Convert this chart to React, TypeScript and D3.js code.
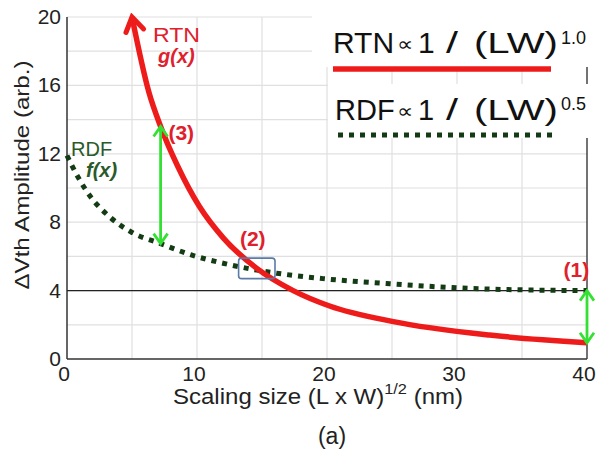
import React, { useRef, useEffect } from "react";
import { select, scaleLinear, line, curveMonotoneX, range } from "d3";

// values
const rtnX = [5, 6.3, 7.2, 8.5, 10.2, 12, 14.6, 17.4, 20.2, 25, 32.5, 40];
const rtnY = [20, 15.6, 13.6, 11.3, 8.9, 7.1, 5.3, 4.0, 3.1, 2.2, 1.4, 0.95];
const rdfX = [0, 0.8, 1.8, 3.3, 5, 7.2, 9.5, 12, 14.6, 19.7, 24.8, 32, 40];
const rdfY = [11.9, 10.7, 9.5, 8.3, 7.4, 6.75, 6.1, 5.6, 5.2, 4.7, 4.4, 4.1, 4.0];
const xTicks = [0, 10, 20, 30, 40];
const yTicks = [0, 4, 8, 12, 16, 20];
const gapArrows = [
  { x: 7.2, from: 13.6, to: 6.75 },
  { x: 40, from: 4.0, to: 0.95 },
];
const crossing = { x: 14.6, y: 5.3 };
const labels = [
  { text: "(1)", x: 38.2, y: 4.8 },
  { text: "(2)", x: 13.3, y: 6.6 },
  { text: "(3)", x: 7.8, y: 12.8 },
];
const legendNames = ["RTN", "RDF"];
const legendExps = ["1.0", "0.5"];

const W = 599;
const H = 452;
const RED = "#ee1b1b";
const DKGREEN = "#143c14";
const GREEN = "#33e033";
const FONT = "'Liberation Sans', Arial, sans-serif";

const App = () => {
  const svgRef = useRef<SVGSVGElement>(null);

  useEffect(() => {
    const svg = select(svgRef.current);
    svg.selectAll("*").remove();

    const x = scaleLinear().domain([0, 40]).range([67, 587]);
    const y = scaleLinear().domain([0, 20]).range([359, 17]);

    const defs = svg.append("defs");
    defs.append("marker")
      .attr("id", "redHead")
      .attr("viewBox", "0 0 24 24")
      .attr("refX", 20).attr("refY", 12)
      .attr("markerWidth", 24).attr("markerHeight", 24)
      .attr("markerUnits", "userSpaceOnUse")
      .attr("orient", "auto-start-reverse")
      .append("path")
      .attr("d", "M6,3 L20,12 L6,21")
      .attr("fill", "none").attr("stroke", RED).attr("stroke-width", 5)
      .attr("stroke-linecap", "round");
    defs.append("marker")
      .attr("id", "greenHead")
      .attr("viewBox", "0 0 20 20")
      .attr("refX", 17).attr("refY", 10)
      .attr("markerWidth", 20).attr("markerHeight", 20)
      .attr("markerUnits", "userSpaceOnUse")
      .attr("orient", "auto-start-reverse")
      .append("path")
      .attr("d", "M7,3 L17,10 L7,17")
      .attr("fill", "none").attr("stroke", GREEN).attr("stroke-width", 2.8);

    // grid
    svg.append("g").selectAll("line")
      .data(range(2, 21, 2))
      .join("line")
      .attr("x1", x(0)).attr("x2", x(40))
      .attr("y1", d => y(d)).attr("y2", d => y(d))
      .attr("stroke", "#e0e0e0").attr("stroke-width", 1.2);
    svg.append("g").selectAll("line")
      .data(range(5, 40, 5))
      .join("line")
      .attr("y1", y(0)).attr("y2", y(20))
      .attr("x1", d => x(d)).attr("x2", d => x(d))
      .attr("stroke", "#e0e0e0").attr("stroke-width", 1.2);

    // axes and the reference line at 4
    svg.append("line").attr("x1", x(0)).attr("x2", x(0)).attr("y1", y(20)).attr("y2", y(0))
      .attr("stroke", "#333").attr("stroke-width", 1.5);
    svg.append("line").attr("x1", x(40)).attr("x2", x(40)).attr("y1", y(20)).attr("y2", y(0))
      .attr("stroke", "#444").attr("stroke-width", 1.5);
    svg.append("line").attr("x1", x(0)).attr("x2", x(40)).attr("y1", y(0)).attr("y2", y(0))
      .attr("stroke", "#333").attr("stroke-width", 1.5);
    svg.append("line").attr("x1", x(0)).attr("x2", x(40)).attr("y1", y(4)).attr("y2", y(4))
      .attr("stroke", "#222").attr("stroke-width", 1.3);

    // tick labels
    svg.append("g").selectAll("text")
      .data(yTicks)
      .join("text")
      .attr("x", 61).attr("y", d => y(d) + 7)
      .attr("text-anchor", "end")
      .attr("font-family", FONT).attr("font-size", 21).attr("fill", "#222")
      .text(d => d);
    svg.append("g").selectAll("text")
      .data(xTicks)
      .join("text")
      .attr("x", d => x(d) - 3).attr("y", 381)
      .attr("text-anchor", "middle")
      .attr("font-family", FONT).attr("font-size", 21).attr("fill", "#222")
      .text(d => d);

    // axis titles
    svg.append("text")
      .attr("transform", `translate(29,175) rotate(-90)`)
      .attr("text-anchor", "middle")
      .attr("font-family", FONT).attr("font-size", 21).attr("fill", "#222")
      .attr("textLength", 229).attr("lengthAdjust", "spacingAndGlyphs")
      .text("ΔVth Amplitude (arb.)");
    const xt = svg.append("text")
      .attr("x", 173).attr("y", 404)
      .attr("font-family", FONT).attr("font-size", 22).attr("fill", "#222")
      .attr("textLength", 290).attr("lengthAdjust", "spacingAndGlyphs");
    xt.append("tspan").text("Scaling size (L x W)");
    xt.append("tspan").attr("dy", -10).attr("font-size", 15).text("1/2");
    xt.append("tspan").attr("dy", 10).text(" (nm)");
    svg.append("text")
      .attr("x", 332).attr("y", 444)
      .attr("text-anchor", "middle")
      .attr("font-family", FONT).attr("font-size", 23).attr("fill", "#222")
      .text("(a)");

    // legend boxes (white) and entries
    svg.append("rect").attr("x", 312).attr("y", 0).attr("width", 287).attr("height", 67).attr("fill", "#fff");
    svg.append("rect").attr("x", 328).attr("y", 84).attr("width", 271).attr("height", 54).attr("fill", "#fff");

    const legend = [
      { base: 53, expBase: 44, lineY: 69, color: RED, dash: null, nx: 333, size: 30, x1: 333, x2: 551 },
      { base: 120, expBase: 110, lineY: 135, color: DKGREEN, dash: "5,6", nx: 335, size: 29, x1: 338, x2: 557 },
    ];
    legend.forEach((l, i) => {
      const g = svg.append("g")
        .attr("font-family", FONT).attr("fill", "#111");
      g.append("text").attr("x", l.nx).attr("y", l.base).attr("font-size", l.size)
        .text(legendNames[i]);
      g.append("text").attr("x", 397).attr("y", l.base - 2).attr("font-size", 20)
        .attr("textLength", 16).attr("lengthAdjust", "spacingAndGlyphs")
        .text("∝");
      g.append("text").attr("x", 418).attr("y", l.base).attr("font-size", l.size).text("1");
      g.append("text").attr("x", 446).attr("y", l.base).attr("font-size", l.size)
        .attr("textLength", 12).attr("lengthAdjust", "spacingAndGlyphs").text("/");
      g.append("text").attr("x", 474).attr("y", l.base).attr("font-size", l.size)
        .attr("textLength", 84).attr("lengthAdjust", "spacingAndGlyphs")
        .text("(LW)");
      g.append("text").attr("x", 561).attr("y", l.expBase).attr("font-size", 18)
        .text(legendExps[i]);
      svg.append("line")
        .attr("x1", l.x1).attr("x2", l.x2).attr("y1", l.lineY).attr("y2", l.lineY)
        .attr("stroke", l.color).attr("stroke-width", l.dash ? 5 : 5.5)
        .attr("stroke-dasharray", l.dash);
    });

    // curves
    const lineGen = line<[number, number]>()
      .x(d => x(d[0])).y(d => y(d[1]))
      .curve(curveMonotoneX);
    const rdf = rdfX.map((v, i) => [v, rdfY[i]] as [number, number]);
    const rtn = rtnX.map((v, i) => [v, rtnY[i]] as [number, number]);

    svg.append("path")
      .attr("d", lineGen(rdf))
      .attr("fill", "none").attr("stroke", DKGREEN)
      .attr("stroke-width", 5).attr("stroke-dasharray", "5,6");
    svg.append("path")
      .attr("d", lineGen(rtn))
      .attr("fill", "none").attr("stroke", RED)
      .attr("stroke-width", 5.5)
      .attr("marker-start", "url(#redHead)");

    // gap arrows
    svg.append("g").selectAll("line")
      .data(gapArrows)
      .join("line")
      .attr("x1", d => x(d.x)).attr("x2", d => x(d.x))
      .attr("y1", d => y(d.from)).attr("y2", d => y(d.to))
      .attr("stroke", GREEN).attr("stroke-width", 2.8)
      .attr("marker-start", "url(#greenHead)")
      .attr("marker-end", "url(#greenHead)");

    // crossing box
    svg.append("rect")
      .attr("x", x(crossing.x - 1.4)).attr("y", y(crossing.y + 0.6))
      .attr("width", x(crossing.x + 1.4) - x(crossing.x - 1.4))
      .attr("height", y(crossing.y - 0.6) - y(crossing.y + 0.6))
      .attr("rx", 3)
      .attr("fill", "none").attr("stroke", "#5a7aa8").attr("stroke-width", 1.6);

    // annotations
    svg.append("g").selectAll("text")
      .data(labels)
      .join("text")
      .attr("x", d => x(d.x)).attr("y", d => y(d.y))
      .attr("font-family", FONT).attr("font-size", 21).attr("font-weight", "bold")
      .attr("fill", "#e0202c")
      .text(d => d.text);

    svg.append("text").attr("x", 153).attr("y", 42)
      .attr("font-family", FONT).attr("font-size", 21).attr("fill", "#e0202c")
      .attr("textLength", 47).attr("lengthAdjust", "spacingAndGlyphs").text("RTN");
    svg.append("text").attr("x", 158).attr("y", 63)
      .attr("font-family", FONT).attr("font-size", 20).attr("font-weight", "bold")
      .attr("font-style", "italic").attr("fill", "#e0202c").text("g(x)");
    svg.append("text").attr("x", 71).attr("y", 156)
      .attr("font-family", FONT).attr("font-size", 20).attr("fill", "#2a5a2a").text("RDF");
    svg.append("text").attr("x", 86).attr("y", 177)
      .attr("font-family", FONT).attr("font-size", 20).attr("font-weight", "bold")
      .attr("font-style", "italic").attr("fill", "#2a5a2a").text("f(x)");
  }, []);

  return (
    <div style={{ position: "absolute", left: 0, top: 0 }}>
      <svg ref={svgRef} width={W} height={H} style={{ display: "block", background: "#fff" }} />
    </div>
  );
};

export default App;
